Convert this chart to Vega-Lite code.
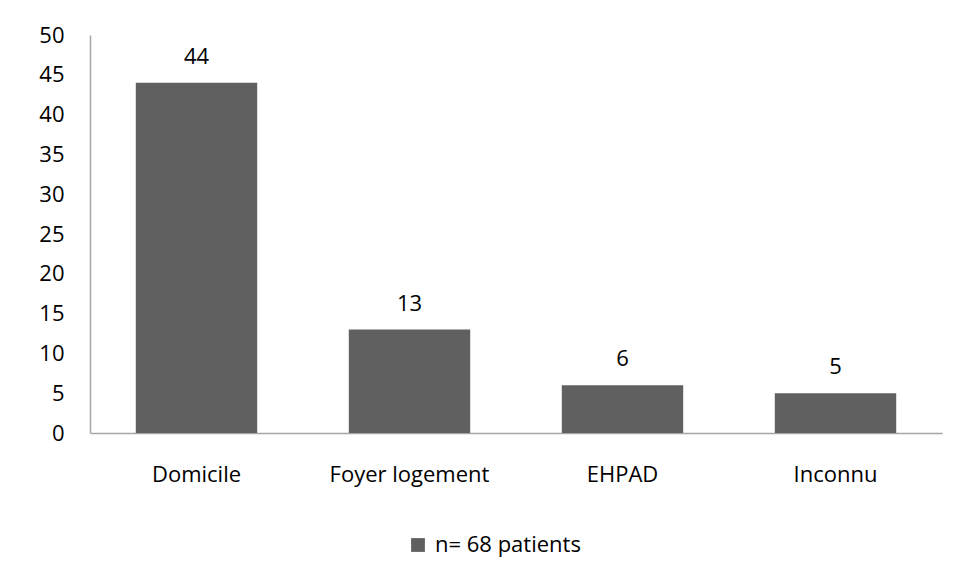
{
  "$schema": "https://vega.github.io/schema/vega-lite/v6.json",
  "width": 852,
  "height": 398,
  "autosize": "none",
  "padding": {"left": 90, "top": 35, "right": 18, "bottom": 147},
  "background": "white",
  "data": {"values": [
    {"lieu": "Domicile", "n": 44, "serie": "n= 68 patients"},
    {"lieu": "Foyer logement", "n": 13, "serie": "n= 68 patients"},
    {"lieu": "EHPAD", "n": 6, "serie": "n= 68 patients"},
    {"lieu": "Inconnu", "n": 5, "serie": "n= 68 patients"}
  ]},
  "encoding": {
    "x": {"field": "lieu", "type": "nominal", "sort": null,
      "scale": {"paddingInner": 0.43, "paddingOuter": 0.215},
      "axis": {"title": null, "labelAngle": 0, "ticks": false, "labelPadding": 31, "labelFontSize": 22, "labelFont": "Open Sans", "labelColor": "#000000", "domainColor": "#A6A6A6", "domainWidth": 1.5}},
    "y": {"field": "n", "type": "quantitative",
      "scale": {"domain": [0, 50], "nice": false},
      "axis": {"title": null, "values": [0,5,10,15,20,25,30,35,40,45,50], "grid": false, "ticks": false, "labelPadding": 26, "labelFontSize": 22, "labelFont": "Open Sans", "labelColor": "#000000", "domainColor": "#A6A6A6", "domainWidth": 1.5}}
  },
  "layer": [
    {"mark": {"type": "bar"},
     "encoding": {"color": {"field": "serie", "type": "nominal",
       "scale": {"range": ["#606060"]},
       "legend": {"title": null, "orient": "none", "legendX": 317, "legendY": 499, "symbolType": "square", "symbolSize": 190, "symbolStrokeWidth": 0, "labelFontSize": 22, "labelFont": "Open Sans", "labelColor": "#000000", "labelOffset": 6}}}},
    {"mark": {"type": "text", "baseline": "alphabetic", "dy": -19, "fontSize": 22, "font": "Open Sans", "color": "#000000"},
     "encoding": {"text": {"field": "n", "type": "quantitative"}}}
  ],
  "config": {"view": {"stroke": null}}
}
